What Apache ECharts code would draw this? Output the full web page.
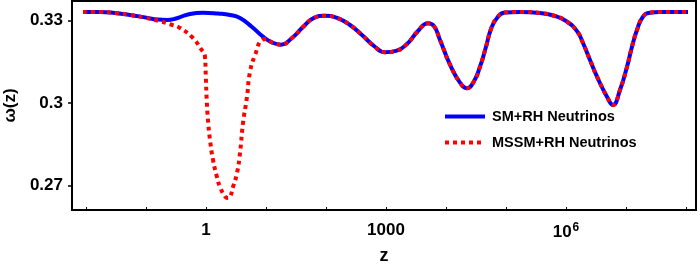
<!DOCTYPE html>
<html><head><meta charset="utf-8">
<script src="https://cdn.jsdelivr.net/npm/echarts@6/dist/echarts.min.js"></script>
<style>html,body{margin:0;padding:0;background:#fff}#c{width:700px;height:270px}</style>
</head><body><div id="c"></div>
<script>
// exponents of z (z = 10^e) and omega values
const smLeftLog10z = [-2.05, -1.767, -1.517, -1.267, -1.017, -0.8, -0.65, -0.5, -0.3, -0.05, 0.2, 0.4, 0.567, 0.767, 0.95];
const smLeftOmega  = [0.3332, 0.3332, 0.3328, 0.3321, 0.3312, 0.3304, 0.33025, 0.3308, 0.33225, 0.3329, 0.3326, 0.3321, 0.3310, 0.3277, 0.3242];

const mssmLeftLog10z = [-2.05, -1.767, -1.517, -1.267, -1.017, -0.783, -0.6, -0.433, -0.217, -0.1, -0.017, -0.004, 0.012, 0.033, 0.067, 0.117, 0.183, 0.233, 0.317, 0.36, 0.4, 0.45, 0.517, 0.567, 0.617, 0.683, 0.733, 0.817, 0.933, 1.0];
const mssmLeftOmega  = [0.3332, 0.3332, 0.3328, 0.3321, 0.3311, 0.3299, 0.3287, 0.32735, 0.3237, 0.3202, 0.3168, 0.3100, 0.30116, 0.29389, 0.28662, 0.27935, 0.27316, 0.26953, 0.2661, 0.2655, 0.2659, 0.26953, 0.27462, 0.2819, 0.2928, 0.30225, 0.31135, 0.3175, 0.3230, 0.3233];

const commonLog10z = [1.1, 1.25, 1.433, 1.617, 1.8, 1.983, 2.183, 2.4, 2.6, 2.8, 2.983, 3.167, 3.35, 3.533, 3.7, 3.8, 3.9, 4.067, 4.233, 4.35, 4.467, 4.567, 4.667, 4.75, 4.85, 4.983, 5.233, 5.567, 5.817, 6.017, 6.183, 6.283, 6.4, 6.517, 6.683, 6.783, 6.9, 7.017, 7.1, 7.183, 7.283, 7.4, 7.567, 8.033];
const commonOmega  = [0.3221, 0.32127, 0.3237, 0.3277, 0.3310, 0.3318, 0.3310, 0.32844, 0.3248, 0.3208, 0.31851, 0.3190, 0.32153, 0.32625, 0.32905, 0.3280, 0.3230, 0.3140, 0.3075, 0.30542, 0.3080, 0.31327, 0.3205, 0.3270, 0.3310, 0.3330, 0.3332, 0.3328, 0.3317, 0.32964, 0.3262, 0.3219, 0.3157, 0.30964, 0.30236, 0.29935, 0.3048, 0.31327, 0.32055, 0.32662, 0.33145, 0.3329, 0.3332, 0.3332];

const seriesNames = ['SM+RH Neutrinos', 'MSSM+RH Neutrinos'];
const xTickExponents = [-2, -1, 0, 1, 2, 3, 4, 5, 6, 7, 8];
const xLabelExponents = [0, 3, 6];
const yTickValues = [0.27, 0.3, 0.33];
const yTickLabels = ['0.27', '0.3', '0.33'];

function pairs(logs, vals) { return logs.map((e, i) => [Math.pow(10, e), vals[i]]); }
const smData = pairs(smLeftLog10z.concat(commonLog10z), smLeftOmega.concat(commonOmega));
const mssmData = pairs(mssmLeftLog10z.concat(commonLog10z), mssmLeftOmega.concat(commonOmega));

const FONT = '"Liberation Sans", Arial, sans-serif';
const chart = echarts.init(document.getElementById('c'), null, {renderer: 'canvas'});
chart.setOption({
  animation: false,
  backgroundColor: '#fff',
  grid: {left: 72, right: 4, top: 1, bottom: 60, containLabel: false, outerBoundsMode: 'none',
         show: true, borderColor: '#000', borderWidth: 2, backgroundColor: 'transparent'},
  xAxis: {
    type: 'log', logBase: 10,
    min: Math.pow(10, -2.2333), max: Math.pow(10, 8.1667),
    name: 'z', nameLocation: 'middle', nameGap: 37,
    nameTextStyle: {fontFamily: FONT, fontWeight: 'bold', fontSize: 18, color: '#000'},
    axisLine: {show: false},
    splitLine: {show: false}, minorTick: {show: false},
    axisTick: {show: true, inside: true, length: 3, lineStyle: {color: '#000', width: 1}, customValues: xTickExponents.map(e => Math.pow(10, e))},
    axisLabel: {
      customValues: xLabelExponents.map(e => Math.pow(10, e)),
      margin: 12, color: '#000', fontFamily: FONT, fontWeight: 'bold', fontSize: 17,
      formatter: function (v) {
        const e = Math.round(Math.log10(v));
        if (e === 0) return '1';
        if (e === 3) return '1000';
        return '{b|10}{s|' + e + '}';
      },
      rich: {
        b: {fontFamily: FONT, fontWeight: 'bold', fontSize: 17, color: '#000'},
        s: {fontFamily: FONT, fontWeight: 'bold', fontSize: 12, color: '#000', verticalAlign: 'top', padding: [0, 0, 8, 1]}
      }
    }
  },
  yAxis: {
    type: 'value', min: 0.26116, max: 0.33716,
    name: 'ω(z)', nameLocation: 'middle', nameGap: 53,
    nameTextStyle: {fontFamily: FONT, fontWeight: 'bold', fontSize: 17, color: '#000'},
    axisLine: {show: false},
    splitLine: {show: false},
    axisTick: {show: true, inside: false, length: 4, lineStyle: {color: '#000', width: 1.5}, customValues: yTickValues},
    axisLabel: {
      customValues: yTickValues, margin: 9, color: '#000', fontFamily: FONT, fontWeight: 'bold', fontSize: 17,
      formatter: function (v) {
        let best = 0;
        yTickValues.forEach((t, i) => { if (Math.abs(t - v) < Math.abs(yTickValues[best] - v)) best = i; });
        return yTickLabels[best];
      }
    }
  },
  legend: {
    orient: 'vertical', left: 438, top: 104, itemWidth: 40, itemHeight: 14, itemGap: 11,
    data: seriesNames,
    itemStyle: {opacity: 0},
    lineStyle: {width: 4},
    textStyle: {fontFamily: FONT, fontWeight: 'bold', fontSize: 14.5, color: '#000', padding: [0, 0, 0, 2]}
  },
  series: [
    {name: seriesNames[0], type: 'line', data: smData, symbol: 'none', showSymbol: false, smooth: 0.5,
     lineStyle: {color: '#0000ff', width: 4}, itemStyle: {color: '#0000ff'}, z: 2},
    {name: seriesNames[1], type: 'line', data: mssmData, symbol: 'none', showSymbol: false, smooth: 0.5,
     lineStyle: {color: '#ff0000', width: 4, type: [4, 4], cap: 'butt'}, itemStyle: {color: '#ff0000'}, z: 3}
  ]
});
</script></body></html>
